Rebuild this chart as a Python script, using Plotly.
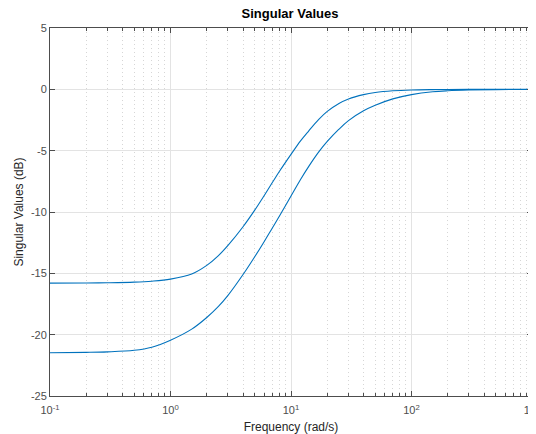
import plotly.graph_objects as go

freq = [0.1, 0.2, 0.3, 0.5, 0.7, 1, 1.5, 2, 2.5, 3, 4, 5, 6, 7, 8, 10, 12, 14, 17, 20, 25,
        30, 40, 50, 70, 100, 150, 200, 300, 500, 1000]
sv_upper = [-15.80, -15.79, -15.77, -15.72, -15.64, -15.47, -15.05, -14.35, -13.55, -12.72, -11.20,
            -9.85, -8.65, -7.60, -6.70, -5.30, -4.20, -3.40, -2.45, -1.80, -1.15,
            -0.78, -0.43, -0.26, -0.12, -0.05, -0.02, -0.01, 0.0, 0.0, 0.0]
sv_lower = [-21.47, -21.44, -21.40, -21.27, -21.02, -20.45, -19.55, -18.60, -17.70, -16.80, -15.10,
            -13.65, -12.40, -11.30, -10.35, -8.70, -7.35, -6.30, -5.10, -4.25, -3.25,
            -2.55, -1.75, -1.30, -0.78, -0.43, -0.20, -0.12, -0.06, -0.02, -0.01]

x_major = [0.1, 1, 10, 100, 1000]
x_major_text = ["10<sup>-1</sup>", "10<sup>0</sup>", "10<sup>1</sup>", "10<sup>2</sup>", "10<sup>3</sup>"]
x_minor = [m * d for d in [0.1, 1, 10, 100] for m in range(2, 10)]
y_ticks = [-25, -20, -15, -10, -5, 0, 5]
y_text = ["-25", "-20", "-15", "-10", "-5", "0", "5"]

line_color = "#0072BD"
fig = go.Figure()
for vals in (sv_upper, sv_lower):
    fig.add_trace(go.Scatter(x=freq, y=vals, mode="lines",
                             line=dict(color=line_color, width=1.1, shape="spline", smoothing=1.0),
                             showlegend=False, hoverinfo="skip"))

# the page body adds an 8px offset, so the figure is sized to fit the window
W, H = 528, 426
axis_col = "#4d4d4d"
fig.update_layout(
    width=W, height=H,
    margin=dict(l=42, r=4, t=20, b=38),
    paper_bgcolor="white", plot_bgcolor="white",
    font=dict(family="Liberation Sans, Arial, sans-serif", size=11, color=axis_col),
    title=dict(text="<b>Singular Values</b>", x=282 / W, xanchor="center", y=1 - 5.5 / H, yanchor="middle",
               yref="container", font=dict(size=13, color="#000000")),
)
fig.update_xaxes(
    type="log", range=[-1, 3], tickmode="array", tickvals=x_major, ticktext=x_major_text,
    ticks="inside", ticklen=5, tickcolor=axis_col, showline=True, linecolor=axis_col, linewidth=1,
    mirror="ticks", showgrid=True, gridcolor="#e3e3e3", gridwidth=1, zeroline=False,
    automargin=False, ticklabeloverflow="allow", ticklabelstandoff=4,
    minor=dict(tickmode="array", tickvals=x_minor, ticks="inside", ticklen=3, tickcolor=axis_col,
               showgrid=True, gridcolor="#d6d6d6", griddash="1px,3px", gridwidth=1),
    title=dict(text="Frequency (rad/s)", font=dict(size=12, color="#262626"), standoff=7),
    tickfont=dict(size=11, color=axis_col),
)
fig.update_yaxes(
    range=[-25, 5], tickmode="array", tickvals=y_ticks, ticktext=y_text,
    ticks="inside", ticklen=5, tickcolor=axis_col, showline=True, linecolor=axis_col, linewidth=1,
    mirror="ticks", showgrid=True, gridcolor="#e3e3e3", gridwidth=1, zeroline=False,
    automargin=False,
    title=dict(text="Singular Values (dB)", font=dict(size=12, color="#262626"), standoff=4),
    tickfont=dict(size=11, color=axis_col),
)

fig.write_html("out.html")
